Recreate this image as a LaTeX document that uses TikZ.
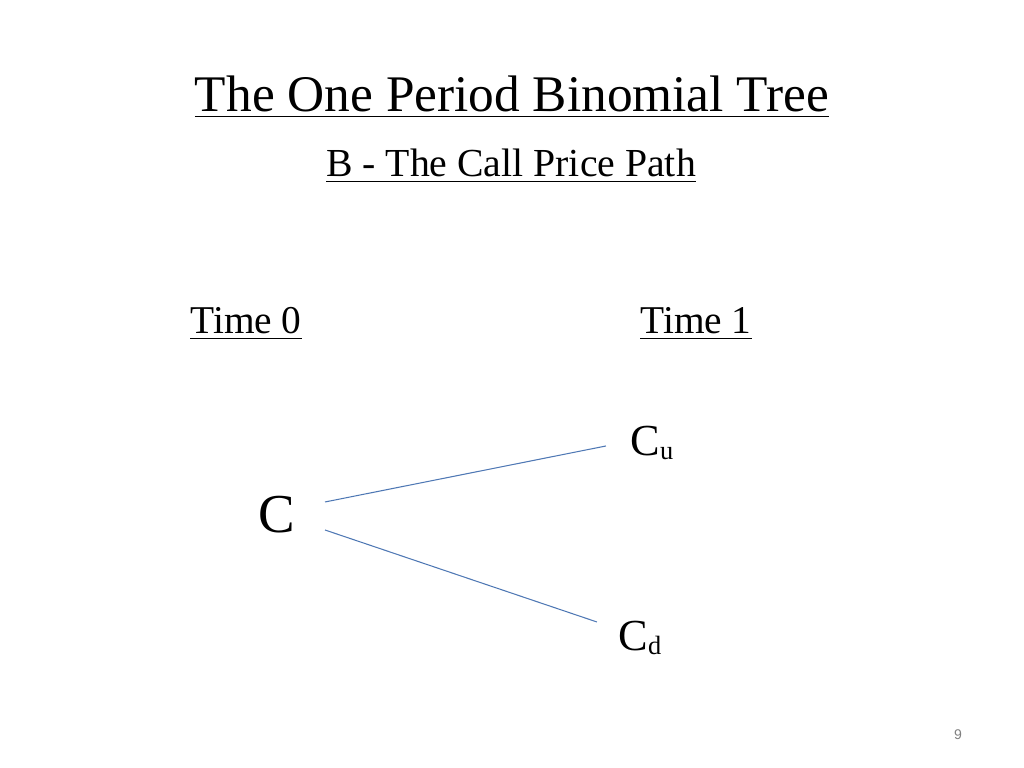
\documentclass[tikz,border=0pt]{standalone}
\usepackage{fontspec}
\setmainfont{Liberation Serif}
\newfontfamily\numfont{Liberation Sans}
\definecolor{linkblue}{RGB}{79,120,180}
\begin{document}
\begin{tikzpicture}
  [x=0.01cm,y=-0.01cm,every node/.style={inner sep=0pt},
   label text/.style={font=\fontsize{11.2}{13}\selectfont},
   price/.style={font=\fontsize{12.6}{14}\selectfont},
   path line/.style={draw=linkblue,line width=0.3pt}]
  \useasboundingbox (0,0) rectangle (1024,768);
  \node (title) at (512,97) {\fontsize{14.6}{16}\selectfont\underline{The One Period Binomial Tree}};
  \node (sub) at (511,166) {\fontsize{11.3}{13}\selectfont\underline{B - The Call Price Path}};
  \node[label text] (t0) at (246,324) {\underline{Time 0}};
  \node[label text] (t1) at (696,324) {\underline{Time 1}};
  \node (c) at (277,515) {\fontsize{15.6}{17}\selectfont C};
  \node[price] (cu) at (652,443) {C\raisebox{-0.2ex}{\fontsize{7.5}{8}\selectfont u}};
  \node[price] (cd) at (640,638) {C\raisebox{-0.2ex}{\fontsize{7.5}{8}\selectfont d}};
  \node[text=gray] (pg) at (958,735) {\numfont\fontsize{4}{5}\selectfont 9};

  \draw[path line] ([xshift=.29cm,yshift=.13cm]c.east) -- ([xshift=-.24cm,yshift=-.03cm]cu.west);
  \draw[path line] ([xshift=.29cm,yshift=-.15cm]c.east) -- ([xshift=-.21cm,yshift=.16cm]cd.west);
\end{tikzpicture}
\end{document}
